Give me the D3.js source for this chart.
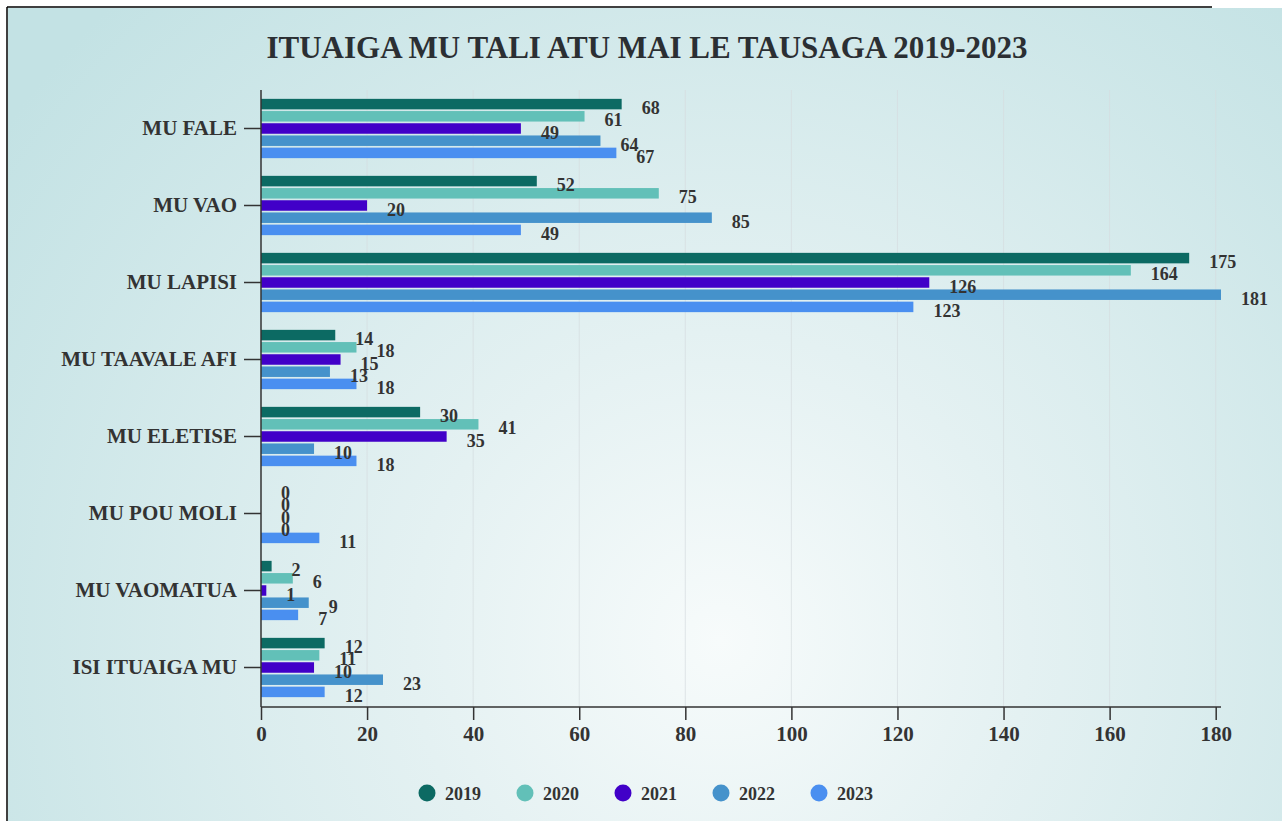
<!DOCTYPE html>
<html>
<head>
<meta charset="utf-8">
<script src="https://cdn.jsdelivr.net/npm/d3@7"></script>
<style>
  html, body { margin: 0; padding: 0; background: #fff; }
  svg { display: block; }
  text { font-family: "Liberation Serif", "Times New Roman", serif; font-weight: bold; fill: #333; }
</style>
</head>
<body>
<div id="chart"></div>
<script>
// data
var categories = ["MU FALE", "MU VAO", "MU LAPISI", "MU TAAVALE AFI", "MU ELETISE", "MU POU MOLI", "MU VAOMATUA", "ISI ITUAIGA MU"];
var years = ["2019", "2020", "2021", "2022", "2023"];
var v2019 = [68, 52, 175, 14, 30, 0, 2, 12];
var v2020 = [61, 75, 164, 18, 41, 0, 6, 11];
var v2021 = [49, 20, 126, 15, 35, 0, 1, 10];
var v2022 = [64, 85, 181, 13, 10, 0, 9, 23];
var v2023 = [67, 49, 123, 18, 18, 11, 7, 12];
var xTicks = [0, 20, 40, 60, 80, 100, 120, 140, 160, 180];
var colors = ["#0c6a63", "#62c0b8", "#4100c8", "#4592cb", "#4a8ff0"];
var title = "ITUAIGA MU TALI ATU MAI LE TAUSAGA 2019-2023";

var series = [v2019, v2020, v2021, v2022, v2023];

var W = 1282, H = 821;
var svg = d3.select("#chart").append("svg")
  .attr("width", W)
  .attr("height", H);

// background gradient
var defs = svg.append("defs");
var grad = defs.append("radialGradient")
  .attr("id", "bg")
  .attr("gradientUnits", "userSpaceOnUse")
  .attr("cx", 720).attr("cy", 640).attr("r", 880);
grad.append("stop").attr("offset", "0%").attr("stop-color", "#f7fbfb");
grad.append("stop").attr("offset", "35%").attr("stop-color", "#e4f1f2");
grad.append("stop").attr("offset", "100%").attr("stop-color", "#c3e2e4");

svg.append("rect")
  .attr("x", 8).attr("y", 8)
  .attr("width", W - 8).attr("height", H - 8)
  .attr("fill", "url(#bg)");

// frame lines
svg.append("line")
  .attr("x1", 7).attr("y1", 7).attr("x2", 1212).attr("y2", 7)
  .style("stroke", "#000").style("stroke-width", 1.5);
svg.append("line")
  .attr("x1", 7).attr("y1", 7).attr("x2", 7).attr("y2", H)
  .style("stroke", "#000").style("stroke-width", 1.5);

// title
svg.append("text")
  .attr("x", 647)
  .attr("y", 58)
  .attr("text-anchor", "middle")
  .style("font-size", "31px")
  .style("fill", "#2b2f33")
  .text(title);

// scales
var x = d3.scaleLinear()
  .domain([0, d3.max(series, function (s) { return d3.max(s); })])
  .range([261, 1221]);

var y = d3.scaleBand()
  .domain(categories)
  .range([90, 706])
  .paddingInner(0.23)
  .paddingOuter(0.115);

var ySub = d3.scaleBand()
  .domain(years)
  .range([0, y.bandwidth()])
  .paddingInner(0.14);

// grid lines
svg.append("g")
  .selectAll("line")
  .data(xTicks.slice(1))
  .enter()
  .append("line")
  .attr("x1", function (d) { return x(d); })
  .attr("x2", function (d) { return x(d); })
  .attr("y1", 90)
  .attr("y2", 707)
  .style("stroke", "#d6dde0")
  .style("stroke-width", 1)
  .style("opacity", 0.7);

// bars
var rows = [];
categories.forEach(function (c, i) {
  years.forEach(function (yr, j) {
    rows.push({ cat: c, year: yr, value: series[j][i], color: colors[j] });
  });
});

svg.append("g")
  .selectAll("rect")
  .data(rows)
  .enter()
  .append("rect")
  .attr("x", x(0))
  .attr("y", function (d) { return y(d.cat) + ySub(d.year); })
  .attr("width", function (d) { return x(d.value) - x(0); })
  .attr("height", ySub.bandwidth())
  .attr("fill", function (d) { return d.color; });

// value labels
svg.append("g")
  .selectAll("text")
  .data(rows)
  .enter()
  .append("text")
  .attr("x", function (d) { return x(d.value) + 20; })
  .attr("y", function (d) { return y(d.cat) + ySub(d.year) + ySub.bandwidth() / 2 + 10; })
  .style("font-size", "18px")
  .text(function (d) { return d.value; });

// Y axis
var yAxis = svg.append("g")
  .attr("transform", "translate(261,0)")
  .call(d3.axisLeft(y).tickSize(17).tickPadding(7));
yAxis.select(".domain").attr("d", "M0,90V707");
yAxis.selectAll("text").style("font-size", "21px").attr("dy", "0.32em");

// X axis
var xAxis = svg.append("g")
  .attr("transform", "translate(0,707)")
  .call(d3.axisBottom(x).tickValues(xTicks).tickSize(13).tickSizeOuter(0).tickPadding(6));
xAxis.select(".domain").attr("d", "M261,0H1221");
xAxis.selectAll("text").style("font-size", "21px");

svg.selectAll(".domain, .tick line")
  .style("stroke", "#333")
  .style("stroke-width", 1.5);

// legend
var legend = svg.append("g")
  .selectAll("g")
  .data(years)
  .enter()
  .append("g")
  .attr("transform", function (d, i) { return "translate(" + (427 + i * 98) + ",793)"; });

legend.append("circle")
  .attr("r", 8.5)
  .attr("fill", function (d, i) { return colors[i]; });

legend.append("text")
  .attr("x", 18)
  .attr("y", 7)
  .style("font-size", "18px")
  .text(function (d) { return d; });
</script>
</body>
</html>
